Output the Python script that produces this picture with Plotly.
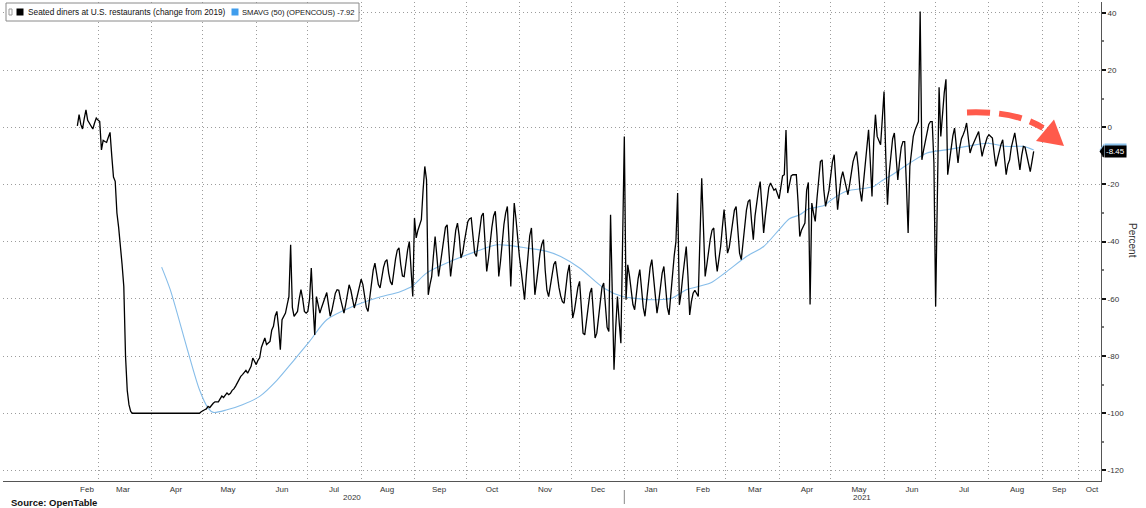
import pandas as pd
import plotly.graph_objects as go

# ---------------- data ----------------
START_DATE = "2020-02-18"          # first daily observation
DINERS = [                          # Seated diners, % change vs 2019, daily
    0.5, 4.4, 1.0, -0.6, 3.0, 6.1, 2.4, 1.4, 0.5, -0.6,
    1.5, 3.2, 2.5, 2.0, -7.9, -4.6, -5.0, -5.3, -3.5, -1.8,
    -10.0, -17.4, -18.9, -30.0, -35.0, -40.5, -48.0, -55.7, -80.0, -92.0,
    -97.0, -99.4, -100, -100, -100, -100, -100, -100, -100, -100,
    -100, -100, -100, -100, -100, -100, -100, -100, -100, -100,
    -100, -100, -100, -100, -100, -100, -100, -100, -100, -100,
    -100, -100, -100, -100, -100, -100, -100, -100, -100, -100,
    -100, -100, -99.5, -99.0, -98.8, -98.5, -97.6, -98.0, -97.0, -96.5,
    -96.0, -95.9, -96.0, -95.0, -94.0, -94.5, -93.5, -92.9, -93.5, -93.0,
    -92.0, -91.5, -90.5, -89.4, -88.0, -87.1, -86.5, -85.5, -85.0, -86.0,
    -84.5, -83.6, -80.7, -82.0, -83.0, -81.5, -80.6, -77.0, -75.0, -73.7,
    -76.0, -75.5, -74.9, -71.0, -69.6, -66.0, -64.4, -70.0, -77.8, -67.3,
    -66.0, -65.0, -62.0, -59.2, -41.1, -63.0, -66.1, -65.0, -64.4, -60.0,
    -56.8, -60.0, -64.4, -65.0, -64.4, -60.0, -49.2, -62.0, -72.6, -59.2,
    -62.0, -65.0, -63.0, -61.0, -59.0, -57.8, -62.0, -66.1, -64.0, -61.0,
    -58.0, -56.8, -57.0, -60.0, -63.0, -65.0, -62.0, -58.0, -55.1, -57.0,
    -60.0, -63.2, -61.0, -58.0, -55.0, -53.1, -55.0, -59.0, -63.0, -64.4,
    -59.0, -54.0, -50.0, -47.5, -52.0, -55.0, -56.2, -52.0, -49.0, -47.0,
    -46.3, -51.0, -54.0, -55.1, -50.0, -46.0, -43.0, -42.2, -48.0, -52.0,
    -52.2, -47.0, -43.0, -40.0, -48.0, -59.2, -31.7, -38.7, -36.0, -34.0,
    -32.3, -22.0, -13.7, -18.4, -58.6, -55.0, -52.2, -45.0, -38.2, -45.0,
    -52.2, -48.0, -43.0, -38.0, -35.0, -34.1, -44.0, -52.2, -47.0, -41.0,
    -36.0, -33.5, -38.0, -45.7, -44.0, -40.0, -36.0, -33.0, -32.0, -31.7,
    -38.0, -44.0, -45.2, -40.0, -35.0, -31.0, -30.0, -40.0, -50.4, -46.0,
    -40.0, -35.0, -31.0, -29.4, -38.0, -52.2, -47.0, -40.0, -34.0, -30.0,
    -27.7, -40.0, -55.7, -40.0, -26.5, -32.0, -40.0, -45.2, -50.0, -55.0,
    -60.3, -52.0, -44.0, -38.0, -35.2, -46.0, -58.6, -54.0, -48.0, -44.0,
    -41.0, -39.3, -50.0, -57.0, -59.2, -55.0, -51.0, -48.0, -46.9, -52.0,
    -56.0, -59.0, -61.0, -61.5, -56.0, -51.0, -48.1, -58.0, -66.7, -64.0,
    -60.0, -56.0, -53.9, -64.0, -72.0, -72.6, -68.0, -63.0, -58.0, -56.2,
    -66.0, -73.7, -72.0, -66.0, -60.0, -56.0, -54.5, -63.0, -70.0, -71.4,
    -30.6, -58.0, -84.8, -70.0, -59.2, -68.0, -75.5, -40.0, -3.2, -60.3,
    -48.1, -52.0, -58.0, -62.0, -63.8, -58.0, -53.0, -49.8, -56.0, -63.0,
    -66.1, -60.0, -54.0, -49.0, -46.3, -52.0, -60.0, -65.0, -61.0, -55.0,
    -51.0, -48.7, -56.0, -63.0, -65.6, -58.0, -50.0, -45.0, -40.0, -23.0,
    -62.1, -58.0, -52.0, -46.0, -41.7, -52.0, -65.6, -61.0, -58.0, -57.0,
    -58.0, -59.2, -38.0, -17.8, -35.0, -52.2, -48.0, -43.0, -39.0, -36.0,
    -35.2, -45.0, -50.4, -46.0, -41.7, -35.0, -28.8, -36.0, -44.0, -42.0,
    -37.0, -32.0, -29.0, -27.7, -38.0, -44.0, -46.3, -40.0, -34.0, -29.0,
    -26.0, -25.3, -33.0, -39.3, -31.0, -26.0, -22.0, -19.0, -28.0, -37.0,
    -31.0, -25.0, -21.0, -19.5, -21.0, -22.0, -21.5, -23.0, -25.0, -21.0,
    -17.0, -16.6, -1.0, -23.0, -20.0, -17.0, -16.6, -16.5, -16.6, -26.0,
    -38.2, -36.0, -35.0, -33.5, -22.0, -19.3, -62.0, -26.5, -30.0, -32.9,
    -25.0, -17.0, -12.0, -11.4, -22.0, -27.7, -25.0, -22.0, -17.0, -12.0,
    -9.6, -20.0, -28.8, -23.0, -18.0, -15.5, -18.0, -21.0, -23.6, -20.0,
    -16.0, -12.0, -10.0, -8.5, -14.0, -22.0, -25.9, -19.0, -12.0, -6.0,
    -0.9, -12.0, -24.2, -5.0, 4.4, -3.2, -5.0, -6.1, 3.0, 12.5,
    -10.0, -27.1, -16.0, -9.0, -4.0, -2.0, -10.0, -18.4, -12.0, -7.0,
    -5.0, -5.0, -20.0, -37.0, -13.7, -8.0, -3.2, -1.0, 0.9, 2.0,
    40.5, -11.4, -8.0, -5.5, -2.0, 1.0, 2.0, 2.0, -12.5, -62.7,
    -20.0, 14.0, -3.2, 5.0, 12.0, 16.8, -16.6, -12.0, -7.0, -3.0,
    -0.3, -6.0, -12.5, -7.0, -4.0, -2.6, -1.0, 1.5, -4.0, -9.0,
    -7.0, -5.5, -4.4, -3.0, -1.5, -6.0, -10.2, -7.5, -5.0, -3.5,
    -2.6, -3.2, -3.8, -9.0, -13.7, -11.0, -8.0, -6.0, -4.4, -11.0,
    -16.6, -13.0, -11.4, -7.0, -4.0, -2.0, -6.0, -11.0, -14.9, -10.0,
    -6.7, -7.0, -10.0, -13.0, -15.5, -12.0, -8.45,
]

SMA_DATES = [
    "2020-04-07", "2020-04-12", "2020-04-22", "2020-04-29", "2020-05-04", "2020-05-07",
    "2020-05-15", "2020-05-24", "2020-06-03", "2020-06-13", "2020-06-23", "2020-07-02",
    "2020-07-12", "2020-07-27", "2020-08-10", "2020-08-24", "2020-08-31", "2020-09-08",
    "2020-09-22", "2020-10-07", "2020-10-19", "2020-10-27", "2020-11-05", "2020-11-17",
    "2020-11-25", "2020-12-06", "2020-12-20", "2020-12-31", "2021-01-10", "2021-01-20",
    "2021-01-29", "2021-02-06", "2021-02-20", "2021-03-01", "2021-03-13", "2021-03-23",
    "2021-04-01", "2021-04-07", "2021-04-13", "2021-04-18", "2021-04-27", "2021-05-01",
    "2021-05-10", "2021-05-26", "2021-05-30", "2021-06-06", "2021-06-16", "2021-06-26",
    "2021-07-07", "2021-07-19", "2021-07-31", "2021-08-11", "2021-08-21", "2021-08-27",
]
SMA_VALUES = [
    -48.9, -56.8, -77.8, -91.8, -98.2, -99.7,
    -98.8, -97.0, -94.1, -88.5, -81.4, -74.9,
    -67.3, -62.7, -59.7, -57.4, -55.4, -51.0,
    -46.9, -43.4, -41.1, -41.4, -42.2, -43.4,
    -45.2, -49.2, -56.2, -59.2, -60.0, -60.3,
    -59.7, -56.8, -54.5, -50.7, -45.2, -41.7,
    -35.8, -32.0, -30.6, -28.6, -27.4, -25.5,
    -22.4, -20.7, -19.0, -16.5, -12.5, -9.0,
    -7.9, -6.7, -5.6, -6.7, -6.7, -7.92,
]

SERIES_NAMES = ["Seated diners at U.S. restaurants (change from 2019)",
                "SMAVG (50) (OPENCOUS)"]
MONTH_LABELS = ["Feb", "Mar", "Apr", "May", "Jun", "Jul", "Aug", "Sep", "Oct", "Nov", "Dec",
                "Jan", "Feb", "Mar", "Apr", "May", "Jun", "Jul", "Aug", "Sep", "Oct"]
YEAR_LABELS = ["2020", "2021"]
Y_TICKS = [-120, -100, -80, -60, -40, -20, 0, 20, 40]
Y_TICK_TEXT = [str(v) for v in Y_TICKS]
Y_AXIS_TITLE = "Percent"
SOURCE = "Source: OpenTable"

# ---------------- layout geometry ----------------
W, H = 1146, 508
ML, MR, MT, MB = 3, 45, 2, 27
PX0, PX1 = ML, W - MR
PY0, PY1 = MT, H - MB
FONT = "Liberation Sans, Arial, sans-serif"

REF_DAY, REF_PX, PX_PER_DAY = pd.Timestamp("2020-03-01"), 98.0, 1.72


def px_date(px):
    return REF_DAY + pd.Timedelta(days=(px - REF_PX) / PX_PER_DAY)


def fmt(ts):
    return ts.strftime("%Y-%m-%d %H:%M:%S")


def pxp(px):
    return (px - PX0) / (PX1 - PX0)


def pyp(py):
    return (PY1 - py) / (PY1 - PY0)


dates = pd.date_range(START_DATE, periods=len(DINERS), freq="D")
last_diners = DINERS[-1]
last_sma = SMA_VALUES[-1]

label_px = [87, 123, 176, 228, 282, 334, 387, 439, 492, 545, 598,
            651, 703, 755, 807, 859, 912, 964, 1017, 1059, 1092]
grid_dates = [fmt(d) for d in pd.date_range("2020-03-01", "2021-09-01", freq="MS")]
grid_dates.append(fmt(px_date(1078)))

GRID = dict(color="#9c9c9c", dash="1px,3px")

fig = go.Figure()
fig.add_trace(go.Scatter(x=SMA_DATES, y=SMA_VALUES, mode="lines", name=SERIES_NAMES[1],
                         line=dict(color="#86bde9", width=1.1, shape="spline", smoothing=0.8),
                         showlegend=False, hoverinfo="skip"))
fig.add_trace(go.Scatter(x=dates, y=DINERS, mode="lines", name=SERIES_NAMES[0],
                         line=dict(color="#000000", width=1.3),
                         showlegend=False, hoverinfo="skip"))

shapes = []
annotations = []

# year separator below axis
shapes.append(dict(type="line", xref="x", yref="paper", x0="2021-01-01", x1="2021-01-01",
                   y0=pyp(490), y1=pyp(504), line=dict(color="#888888", width=1)))
for txt, px in zip(YEAR_LABELS, [352, 862]):
    annotations.append(dict(text=txt, xref="x", yref="paper", x=fmt(px_date(px)), y=pyp(498),
                            xanchor="center", yanchor="middle", showarrow=False,
                            font=dict(family=FONT, size=8, color="#333333")))

# legend box
shapes.append(dict(type="rect", xref="paper", yref="paper", x0=pxp(6), x1=pxp(359),
                   y0=pyp(21), y1=pyp(3), fillcolor="white", line=dict(color="#8a8a8a", width=1)))
shapes.append(dict(type="rect", xref="paper", yref="paper", x0=pxp(9), x1=pxp(12),
                   y0=pyp(15), y1=pyp(9), fillcolor="white", line=dict(color="#999999", width=1)))
shapes.append(dict(type="rect", xref="paper", yref="paper", x0=pxp(16.5), x1=pxp(23.5),
                   y0=pyp(15.5), y1=pyp(8.5), fillcolor="#000000", line=dict(width=0)))
shapes.append(dict(type="rect", xref="paper", yref="paper", x0=pxp(231.5), x1=pxp(238.5),
                   y0=pyp(15.5), y1=pyp(8.5), fillcolor="#3f9ded", line=dict(width=0)))
annotations.append(dict(text=SERIES_NAMES[0], xref="paper", yref="paper", x=pxp(25.5), y=pyp(12),
                        xanchor="left", yanchor="middle", showarrow=False,
                        font=dict(family=FONT, size=8.3, color="#111111")))
annotations.append(dict(text=f"{SERIES_NAMES[1]} {last_sma:.2f}", xref="paper", yref="paper",
                        x=pxp(239.5), y=pyp(12), xanchor="left", yanchor="middle", showarrow=False,
                        font=dict(family=FONT, size=7.6, color="#111111")))

# last-value labels on the right axis
for val, col in [(last_sma, "#8cc2ec"), (last_diners, "#000000")]:
    shapes.append(dict(type="path", xref="paper", yref="y",
                       path=f"M {pxp(1099.5)},{val} L {pxp(1104)},{val + 2.2} L {pxp(1104)},{val - 2.2} Z",
                       fillcolor=col, line=dict(width=0)))
    annotations.append(dict(text=f"{val:.2f}", xref="paper", yref="y", x=pxp(1103.5), y=val,
                            xanchor="left", yanchor="middle", showarrow=False, bgcolor=col,
                            borderpad=1, font=dict(family=FONT, size=8, color="white")))

# axis title
annotations.append(dict(text=Y_AXIS_TITLE, xref="paper", yref="paper", x=pxp(1133), y=pyp(240),
                        xanchor="center", yanchor="middle", textangle=90, showarrow=False,
                        font=dict(family=FONT, size=10, color="#333333")))
# source
annotations.append(dict(text=f"<b>{SOURCE}</b>", xref="paper", yref="paper", x=pxp(9), y=pyp(502),
                        xanchor="left", yanchor="middle", showarrow=False,
                        font=dict(family=FONT, size=9.5, color="#111111")))

# red dashed annotation arrow
red = "#ff5a4b"
shapes.append(dict(type="path", xref="paper", yref="paper",
                   path=(f"M {pxp(967)},{pyp(112.5)} C {pxp(996)},{pyp(111.5)} "
                         f"{pxp(1022)},{pyp(115)} {pxp(1043)},{pyp(128)}"),
                   line=dict(color=red, width=6, dash="23px,9px")))
shapes.append(dict(type="path", xref="paper", yref="paper",
                   path=(f"M {pxp(1036)},{pyp(141)} L {pxp(1054)},{pyp(119.5)} "
                         f"L {pxp(1064)},{pyp(146)} Z"),
                   fillcolor=red, line=dict(width=0)))

fig.update_layout(
    width=W, height=H,
    margin=dict(l=ML, r=MR, t=MT, b=MB, pad=0),
    paper_bgcolor="white", plot_bgcolor="white",
    showlegend=False,
    shapes=shapes, annotations=annotations,
    xaxis=dict(type="date", range=[fmt(px_date(PX0)), fmt(px_date(PX1))],
               tickmode="array", tickvals=[fmt(px_date(p)) for p in label_px], ticktext=MONTH_LABELS,
               ticks="", showgrid=False, zeroline=False,
               showline=True, linecolor="#555555", linewidth=1,
               tickfont=dict(family=FONT, size=8, color="#333333"),
               minor=dict(tickmode="array", tickvals=grid_dates, showgrid=True,
                          gridcolor=GRID["color"], griddash=GRID["dash"], gridwidth=1, ticks=""),
               fixedrange=True),
    yaxis=dict(side="right", range=[-123.7, 43.8],
               tickmode="array", tickvals=Y_TICKS, ticktext=Y_TICK_TEXT,
               ticks="outside", ticklen=4, tickwidth=2, tickcolor="#111111",
               showline=True, linecolor="#555555", linewidth=1,
               showgrid=True, gridcolor=GRID["color"], griddash=GRID["dash"], gridwidth=1,
               zeroline=False,
               tickfont=dict(family=FONT, size=8, color="#333333"),
               minor=dict(tickmode="linear", tick0=-120, dtick=10, ticks="outside",
                          ticklen=2, tickcolor="#777777", showgrid=False),
               fixedrange=True),
)

fig.write_html("out.html",
               config={"displayModeBar": False},
               post_script="document.body.style.margin='0';document.body.style.overflow='hidden';")
